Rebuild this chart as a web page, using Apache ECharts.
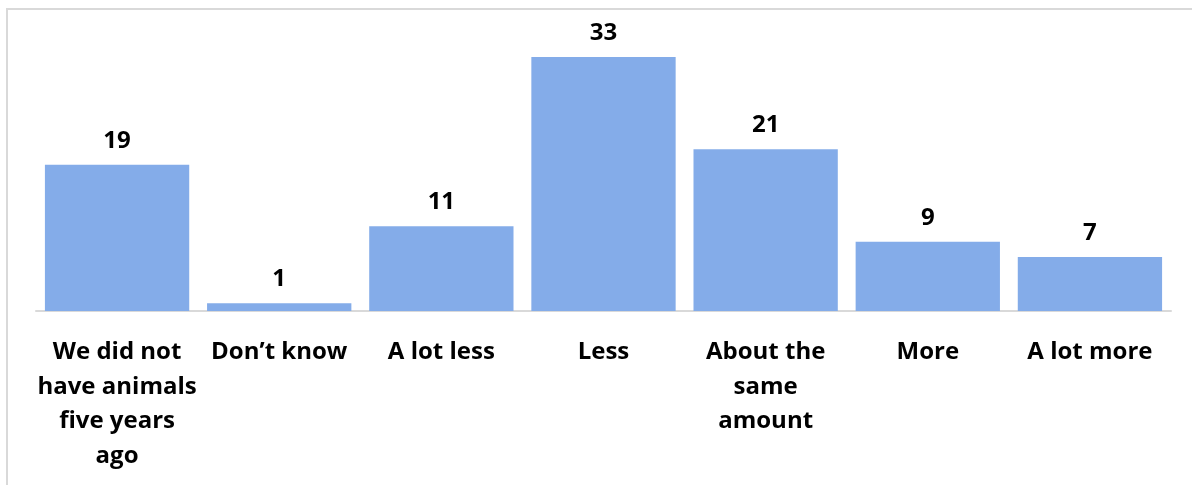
<!DOCTYPE html>
<html>
<head>
<meta charset="utf-8">
<script src="https://cdn.jsdelivr.net/npm/echarts@6/dist/echarts.min.js"></script>
<style>
  html, body { margin: 0; padding: 0; background: #fff; }
  #chart { width: 1192px; height: 485px; }
</style>
</head>
<body>
<div id="chart"></div>
<script>
// Answer categories (line breaks as shown under each bar)
const categories = [
  'We did not\nhave animals\nfive years\nago',
  'Don\u2019t know',
  'A lot less',
  'Less',
  'About the\nsame\namount',
  'More',
  'A lot more'
];
// Share of responses per category
const values = [19, 1, 11, 33, 21, 9, 7];

const FONT = '"Open Sans", "Noto Sans", sans-serif';
const chart = echarts.init(document.getElementById('chart'), null, { renderer: 'canvas' });

chart.setOption({
  animation: false,
  backgroundColor: '#ffffff',
  graphic: [
    // frame lines along the top and left edge
    { type: 'rect', shape: { x: 6, y: 8, width: 1186, height: 2 }, style: { fill: '#d9d9d9' }, silent: true },
    { type: 'rect', shape: { x: 6, y: 8, width: 2, height: 477 }, style: { fill: '#d9d9d9' }, silent: true }
  ],
  grid: { left: 36, right: 21, top: 41.5, bottom: 174, containLabel: false },
  xAxis: {
    type: 'category',
    data: categories,
    axisLine: { show: true, lineStyle: { color: '#d9d9d9', width: 2 } },
    axisTick: { show: false },
    axisLabel: {
      interval: 0,
      margin: 24,
      color: '#000',
      fontFamily: FONT,
      fontWeight: 'bold',
      fontSize: 24,
      lineHeight: 34.5
    }
  },
  yAxis: {
    type: 'value',
    min: 0,
    max: 35,
    show: false,
    splitLine: { show: false }
  },
  series: [{
    type: 'bar',
    data: values,
    barCategoryGap: '11%',
    itemStyle: { color: '#84ace9' },
    label: {
      show: true,
      position: 'top',
      distance: 12,
      color: '#000',
      fontFamily: FONT,
      fontWeight: 'bold',
      fontSize: 24
    }
  }]
});
</script>
</body>
</html>
